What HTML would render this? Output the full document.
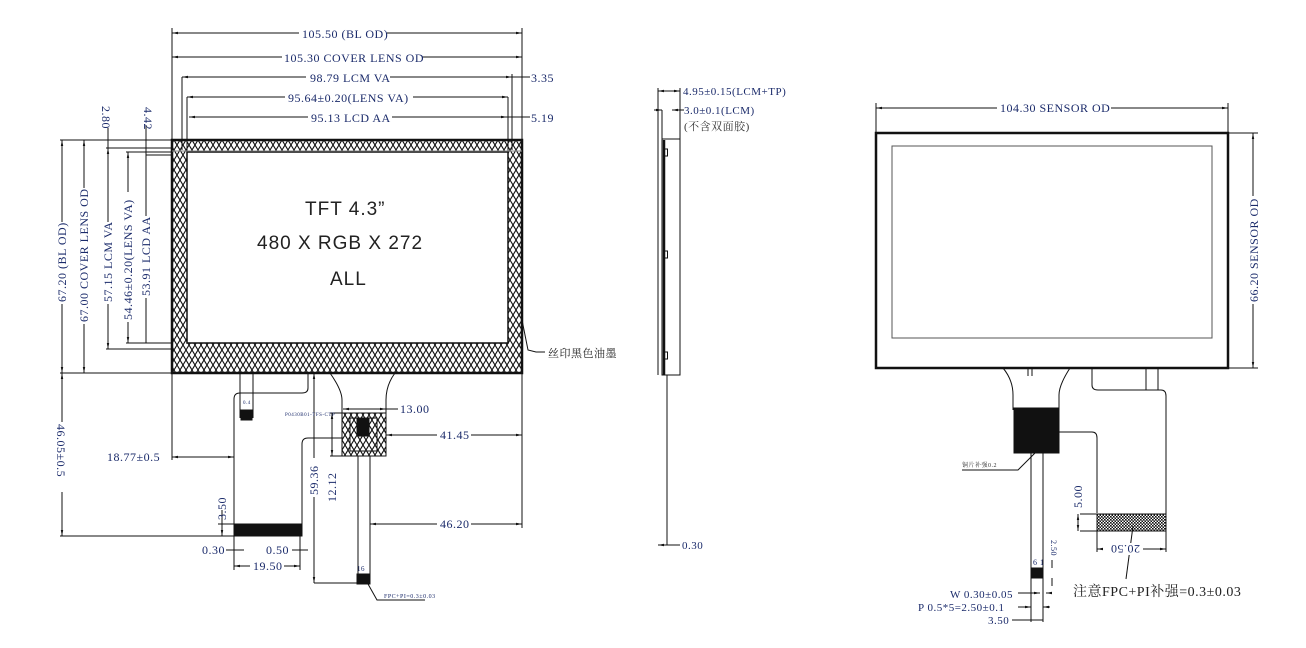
<!DOCTYPE html>
<html><head><meta charset="utf-8"><style>
html,body{margin:0;padding:0;background:#fff;}
svg{display:block;}
text{font-family:"Liberation Serif","Noto Serif CJK SC",serif;fill:#1a2a6a;letter-spacing:0.5px;}
.s{font-family:"Liberation Sans","Noto Sans CJK SC",sans-serif;fill:#222;letter-spacing:1px;}
</style></head><body>
<svg width="1306" height="648" viewBox="0 0 1306 648" xmlns="http://www.w3.org/2000/svg">
<defs>
<pattern id="h" width="12" height="10" patternUnits="userSpaceOnUse">
<path d="M0 0L6 10M6 0L0 10M6 0L12 10M12 0L6 10" stroke="#111" stroke-width="1.1"/>
</pattern>
<pattern id="d" width="3" height="3" patternUnits="userSpaceOnUse">
<rect width="3" height="3" fill="#fff"/><rect width="1.6" height="1.6" fill="#111"/><rect x="1.5" y="1.5" width="1.5" height="1.5" fill="#111"/>
</pattern>
<marker id="a" viewBox="0 0 10 10" refX="10" refY="5" markerWidth="6" markerHeight="6" orient="auto-start-reverse"><path d="M0 3L10 5L0 7z" fill="#111"/></marker>
</defs>
<g stroke="#111" stroke-width="1" fill="none">
<line x1="172" y1="28" x2="172" y2="140"/><line x1="522" y1="28" x2="522" y2="140"/>
<line x1="172" y1="33" x2="522" y2="33" marker-start="url(#a)" marker-end="url(#a)"/>
<line x1="172" y1="57" x2="522" y2="57" marker-start="url(#a)" marker-end="url(#a)"/>
<line x1="182" y1="77" x2="512" y2="77" marker-start="url(#a)" marker-end="url(#a)"/>
<line x1="182" y1="77" x2="182" y2="150"/><line x1="512" y1="74" x2="512" y2="150"/>
<line x1="512" y1="77" x2="530" y2="77"/>
<line x1="187" y1="97" x2="508" y2="97" marker-start="url(#a)" marker-end="url(#a)"/>
<line x1="187" y1="97" x2="187" y2="152"/><line x1="508" y1="97" x2="508" y2="152"/>
<line x1="189" y1="117" x2="507" y2="117" marker-start="url(#a)" marker-end="url(#a)"/>
<line x1="507" y1="117" x2="530" y2="117"/>
<line x1="60" y1="140" x2="172" y2="140"/><line x1="60" y1="373" x2="172" y2="373"/>
<line x1="62" y1="140" x2="62" y2="373" marker-start="url(#a)" marker-end="url(#a)"/>
<line x1="84" y1="140" x2="84" y2="373" marker-start="url(#a)" marker-end="url(#a)"/>
<line x1="106" y1="148" x2="172" y2="148"/><line x1="106" y1="349" x2="172" y2="349"/>
<line x1="108" y1="148" x2="108" y2="349" marker-start="url(#a)" marker-end="url(#a)"/>
<line x1="126" y1="152" x2="172" y2="152"/><line x1="126" y1="343" x2="172" y2="343"/>
<line x1="128" y1="152" x2="128" y2="343" marker-start="url(#a)" marker-end="url(#a)"/>
<line x1="146" y1="155" x2="172" y2="155"/>
<line x1="146" y1="125" x2="146" y2="343"/>
<line x1="108" y1="128" x2="108" y2="148"/>
<rect x="172" y="140" width="350" height="233" fill="url(#h)" stroke-width="2.5"/>
<rect x="187" y="152" width="321" height="191" fill="#fff" stroke-width="1.5"/>
<line x1="172" y1="151" x2="522" y2="151" stroke="#888"/>
<path d="M522 320L528 350L536 352L545 352" />
<line x1="60" y1="536" x2="234" y2="536"/>
<line x1="62" y1="373" x2="62" y2="536" marker-start="url(#a)" marker-end="url(#a)"/>
<line x1="172" y1="373" x2="172" y2="460"/><line x1="522" y1="373" x2="522" y2="528"/>
<line x1="172" y1="457" x2="234" y2="457" marker-start="url(#a)" marker-end="url(#a)"/>
<line x1="240" y1="373" x2="240" y2="418"/><line x1="253" y1="373" x2="253" y2="418"/>
<rect x="241" y="410" width="11" height="10" fill="#111"/>
<path d="M308 373V388Q308 393 302 393H240Q234 393 234 399V536"/>
<path d="M302 536V444Q302 438 308 438H343"/>
<rect x="234" y="524" width="68" height="12" fill="#111"/>
<path d="M330 373Q342 390 342 400V413"/>
<path d="M395 373Q386 385 386 400V413"/>
<rect x="342" y="413" width="44" height="43" fill="url(#h)"/>
<rect x="350" y="418" width="27" height="33" fill="none"/>
<rect x="357" y="418" width="12" height="18" fill="#111"/>
<path d="M358 456V580M370 456V580" />
<rect x="357" y="574" width="13" height="10" fill="#111"/>
<line x1="314" y1="373" x2="314" y2="583" marker-start="url(#a)" marker-end="url(#a)"/>
<line x1="314" y1="583" x2="358" y2="583"/>
<line x1="330" y1="413" x2="343" y2="413"/><line x1="330" y1="456" x2="343" y2="456"/>
<line x1="332" y1="413" x2="332" y2="456" marker-start="url(#a)" marker-end="url(#a)"/>
<line x1="343" y1="409" x2="386" y2="409" marker-start="url(#a)" marker-end="url(#a)"/>
<line x1="386" y1="409" x2="398" y2="409"/>
<line x1="386" y1="435" x2="522" y2="435" marker-start="url(#a)" marker-end="url(#a)"/>
<line x1="370" y1="524" x2="522" y2="524" marker-start="url(#a)" marker-end="url(#a)"/>
<line x1="222" y1="510" x2="222" y2="536" marker-end="url(#a)"/>
<line x1="218" y1="524" x2="234" y2="524"/>
<line x1="234" y1="536" x2="234" y2="570"/><line x1="300" y1="536" x2="300" y2="570"/>
<line x1="226" y1="550" x2="244" y2="550"/><line x1="292" y1="550" x2="308" y2="550"/>
<line x1="234" y1="566" x2="300" y2="566" marker-start="url(#a)" marker-end="url(#a)"/>
<path d="M368 584L377 600H425"/>
<line x1="658" y1="88" x2="658" y2="140"/><line x1="680" y1="88" x2="680" y2="140"/>
<line x1="658" y1="91" x2="680" y2="91" marker-start="url(#a)" marker-end="url(#a)"/>
<line x1="654" y1="110" x2="662" y2="110" marker-end="url(#a)"/>
<line x1="672" y1="110" x2="684" y2="110" marker-start="url(#a)"/>
<line x1="662" y1="110" x2="662" y2="140"/>
<line x1="658" y1="139" x2="658" y2="375"/>
<rect x="662" y="139" width="18" height="236" />
<line x1="664" y1="140" x2="664" y2="375" stroke-width="2.5"/>
<rect x="664.5" y="149" width="3" height="7"/><rect x="664.5" y="251" width="3" height="7"/><rect x="664.5" y="352" width="3" height="7"/>
<line x1="667" y1="375" x2="667" y2="545"/>
<line x1="658" y1="545" x2="680" y2="545" marker-start="url(#a)"/>
<line x1="876" y1="103" x2="876" y2="133"/><line x1="1228" y1="103" x2="1228" y2="133"/>
<line x1="876" y1="108" x2="1228" y2="108" marker-start="url(#a)" marker-end="url(#a)"/>
<rect x="876" y="133" width="352" height="235" stroke-width="2.5"/>
<rect x="892" y="146" width="320" height="192" stroke="#555"/>
<line x1="1228" y1="133" x2="1258" y2="133"/><line x1="1228" y1="368" x2="1258" y2="368"/>
<line x1="1253" y1="133" x2="1253" y2="368" marker-start="url(#a)" marker-end="url(#a)"/>
<path d="M1003 368Q1013 380 1013 395V410"/>
<path d="M1070 368Q1059 385 1059 395V410"/>
<path d="M1028 368V376M1032 368V376"/>
<rect x="1014" y="408" width="45" height="45" fill="#111"/>
<path d="M1031 453V578M1043 453V578"/>
<rect x="1031" y="568" width="12" height="10" fill="#111"/>
<path d="M1092 368V385Q1092 390 1098 390H1161Q1166 390 1166 396V530"/>
<path d="M1146 368V390M1158 368V390"/>
<path d="M1059 432H1092Q1097 432 1097 438V513"/>
<rect x="1097" y="514" width="69" height="17" fill="url(#d)"/>
<line x1="1097" y1="531" x2="1097" y2="552"/><line x1="1166" y1="531" x2="1166" y2="552"/>
<line x1="1097" y1="549" x2="1166" y2="549" marker-start="url(#a)" marker-end="url(#a)"/>
<line x1="1080" y1="514" x2="1097" y2="514"/><line x1="1080" y1="531" x2="1097" y2="531"/>
<line x1="1078" y1="514" x2="1078" y2="531" marker-start="url(#a)" marker-end="url(#a)"/>
<path d="M1035 453L1018 470H962"/>
<path d="M1133 526L1126 579"/>
<line x1="1052" y1="560" x2="1052" y2="568"/><line x1="1052" y1="578" x2="1052" y2="586"/>
<line x1="1018" y1="593" x2="1040" y2="593" marker-end="url(#a)"/><line x1="1046" y1="593" x2="1052" y2="593" marker-start="url(#a)"/>
<line x1="1018" y1="607" x2="1031" y2="607" marker-end="url(#a)"/><line x1="1043" y1="607" x2="1050" y2="607" marker-start="url(#a)"/>
<line x1="1012" y1="620" x2="1043" y2="620"/>
<line x1="1031" y1="578" x2="1031" y2="622"/><line x1="1043" y1="578" x2="1043" y2="622"/>
</g>
<!-- label backgrounds -->
<g fill="#fff">
<rect x="299" y="27" width="88" height="12"/>
<rect x="282" y="51" width="140" height="12"/>
<rect x="306" y="71" width="84" height="12"/>
<rect x="285" y="91" width="128" height="12"/>
<rect x="308" y="111" width="84" height="12"/>
<rect x="997" y="102" width="114" height="12"/>
<rect x="437" y="429" width="34" height="12"/>
<rect x="437" y="518" width="34" height="12"/>
<rect x="250" y="560" width="34" height="12"/>
<rect x="1103" y="543" width="40" height="12"/>
<rect x="56" y="222" width="12" height="82"/>
<rect x="78" y="188" width="12" height="136"/>
<rect x="102" y="222" width="12" height="82"/>
<rect x="122" y="192" width="12" height="130"/>
<rect x="140" y="216" width="12" height="82"/>
<rect x="52" y="422" width="12" height="70"/>
<rect x="308" y="458" width="12" height="39"/>
<rect x="326" y="468" width="12" height="36"/>
<rect x="1247" y="196" width="12" height="108"/>
</g>
<g font-size="12">
<text x="302" y="38">105.50 (BL OD)</text>
<text x="284" y="62">105.30 COVER LENS OD</text>
<text x="310" y="82">98.79 LCM VA</text>
<text x="288" y="102">95.64±0.20(LENS VA)</text>
<text x="311" y="122">95.13 LCD AA</text>
<text x="531" y="82">3.35</text>
<text x="531" y="122">5.19</text>
<text transform="translate(102,106) rotate(90)">2.80</text>
<text transform="translate(144,107) rotate(90)">4.42</text>
<text transform="translate(66,302) rotate(-90)">67.20 (BL OD)</text>
<text transform="translate(88,322) rotate(-90)">67.00 COVER LENS OD</text>
<text transform="translate(112,302) rotate(-90)">57.15 LCM VA</text>
<text transform="translate(132,320) rotate(-90)">54.46±0.20(LENS VA)</text>
<text transform="translate(150,296) rotate(-90)">53.91 LCD AA</text>
<text transform="translate(57,424) rotate(90)">46.05±0.5</text>
<text x="107" y="461">18.77±0.5</text>
<text x="400" y="413">13.00</text>
<text x="440" y="439">41.45</text>
<text x="440" y="528">46.20</text>
<text transform="translate(318,495) rotate(-90)">59.36</text>
<text transform="translate(336,502) rotate(-90)">12.12</text>
<text transform="translate(226,520) rotate(-90)">3.50</text>
<text x="202" y="554">0.30</text>
<text x="266" y="554">0.50</text>
<text x="253" y="570">19.50</text>
<text x="285" y="416" font-size="5">P0430B01-TFS-CTP</text>
<text x="384" y="598" font-size="6">FPC+PI=0.3±0.03</text>
<text x="357" y="571" font-size="7">16</text>
<text x="243" y="404" font-size="5">0.4</text>
<text class="s" x="305" y="215" font-size="19">TFT 4.3”</text>
<text class="s" x="257" y="249" font-size="19">480 X RGB X 272</text>
<text class="s" x="330" y="285" font-size="19">ALL</text>
<text x="548" y="357" font-size="11" style="fill:#222">丝印黑色油墨</text>
<text x="683" y="95" font-size="11">4.95±0.15(LCM+TP)</text>
<text x="684" y="114" font-size="11">3.0±0.1(LCM)</text>
<text x="684" y="130" font-size="11" style="fill:#333">(不含双面胶)</text>
<text x="682" y="549" font-size="11">0.30</text>
<text x="1000" y="112">104.30 SENSOR OD</text>
<text transform="translate(1258,302) rotate(-90)">66.20 SENSOR OD</text>
<text x="962" y="467" font-size="6" style="fill:#333">铜片补强0.2</text>
<text transform="translate(1082,508) rotate(-90)">5.00</text>
<text transform="translate(1140,545) rotate(180)">20.50</text>
<text x="1073" y="596" font-size="14" style="fill:#222">注意FPC+PI补强=0.3±0.03</text>
<text x="950" y="598" font-size="11">W 0.30±0.05</text>
<text x="918" y="611" font-size="11">P 0.5*5=2.50±0.1</text>
<text x="988" y="624" font-size="11">3.50</text>
<text x="1033" y="565" font-size="8">6 1</text>
<text transform="translate(1051,540) rotate(90)" font-size="8">2.50</text>
</g>
</svg>
</body></html>
